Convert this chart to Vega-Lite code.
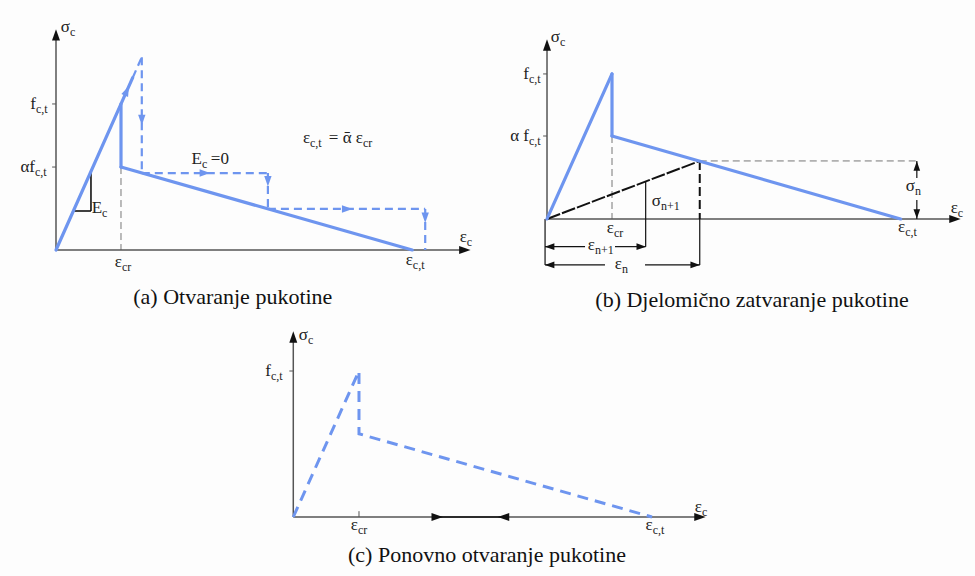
{
  "$schema": "https://vega.github.io/schema/vega-lite/v6.json",
  "background": "#fdfdfd",
  "padding": 0,
  "spacing": 0,
  "config": {"view": {"stroke": null}, "concat": {"spacing": 0}},
  "datasets": {
    "A": [
      {"kind": "axis", "e": 0, "s": 0, "e2": 6.29, "s2": 0},
      {"kind": "axis", "e": 0, "s": 0, "e2": 0, "s2": 1.473},
      {"kind": "arrowAxis", "dir": "right", "e": 6.29, "s": 0},
      {"kind": "arrowAxis", "dir": "up", "e": 0, "s": 1.473},
      {"kind": "tick", "e": -0.06, "s": 1, "e2": 0, "s2": 1},
      {"kind": "tick", "e": -0.06, "s": 0.568, "e2": 0, "s2": 0.568},
      {"kind": "guide", "e": 1, "s": 0.568, "e2": 1, "s2": 0},
      {"kind": "blue", "e": 0, "s": 0, "e2": 1.18, "s2": 1.18},
      {"kind": "blue", "e": 1, "s": 1, "e2": 1, "s2": 0.568},
      {"kind": "blue", "e": 1, "s": 0.568, "e2": 5.48, "s2": 0},
      {"kind": "blueDash", "e": 1.18, "s": 1.18, "e2": 1.32, "s2": 1.32},
      {"kind": "blueDash", "e": 1.32, "s": 1.32, "e2": 1.32, "s2": 0.527},
      {"kind": "blueDash", "e": 1.32, "s": 0.527, "e2": 3.26, "s2": 0.527},
      {"kind": "blueDash", "e": 3.26, "s": 0.527, "e2": 3.26, "s2": 0.281},
      {"kind": "blueDash", "e": 3.26, "s": 0.281, "e2": 5.68, "s2": 0.281},
      {"kind": "blueDash", "e": 5.68, "s": 0.281, "e2": 5.68, "s2": 0},
      {"kind": "black", "e": 0.538, "s": 0.537, "e2": 0.538, "s2": 0.267},
      {"kind": "black", "e": 0.246, "s": 0.267, "e2": 0.538, "s2": 0.267},
      {"kind": "arrowBlue", "dir": "down", "e": 1.32, "s": 0.89},
      {"kind": "arrowBlue", "dir": "right", "e": 2.29, "s": 0.527},
      {"kind": "arrowBlue", "dir": "down", "e": 3.26, "s": 0.47},
      {"kind": "arrowBlue", "dir": "right", "e": 4.48, "s": 0.281},
      {"kind": "arrowBlue", "dir": "down", "e": 5.68, "s": 0.22},
      {"kind": "arrowSlant", "e": 1.09, "s": 1.09},
      {"kind": "label", "main": "σ", "sub": "c", "e": 0.215, "s": 1.527},
      {"kind": "label", "main": "f", "sub": "c,t", "e": -0.308, "s": 1.0},
      {"kind": "label", "main": "αf", "sub": "c,t", "e": -0.323, "s": 0.568},
      {"kind": "label", "main": "E", "sub": "c", "e": 0.708, "s": 0.288},
      {"kind": "label", "main": "ε", "sub": "cr", "e": 1.015, "s": -0.082},
      {"kind": "label", "main": "ε", "sub": "c,t", "e": 5.49, "s": -0.068},
      {"kind": "label", "main": "ε", "sub": "c", "e": 6.32, "s": 0.089},
      {"kind": "label", "main": "E", "sub": "c", "e": 2.246, "s": 0.623},
      {"kind": "label", "main": "=0", "sub": "", "e": 2.66, "s": 0.623},
      {"kind": "label", "main": "ε", "sub": "c,t", "e": 3.908, "s": 0.767},
      {"kind": "label", "main": "= ᾱ ε", "sub": "cr", "e": 4.723, "s": 0.767},
      {"kind": "title", "title": "(a) Otvaranje pukotine", "e": 2.72, "s": -0.322}
    ],
    "B": [
      {"kind": "axis", "e": 0, "s": 0, "e2": 6.277, "s2": 0},
      {"kind": "axis", "e": 0, "s": 0, "e2": 0, "s2": 1.2},
      {"kind": "arrowAxis", "dir": "right", "e": 6.277, "s": 0},
      {"kind": "arrowAxis", "dir": "up", "e": 0, "s": 1.2},
      {"kind": "tick", "e": -0.06, "s": 1, "e2": 0, "s2": 1},
      {"kind": "tick", "e": -0.06, "s": 0.572, "e2": 0, "s2": 0.572},
      {"kind": "guide", "e": 1, "s": 0.572, "e2": 1, "s2": 0},
      {"kind": "guide", "e": 2.35, "s": 0.4, "e2": 5.69, "s2": 0.4},
      {"kind": "blue", "e": 0, "s": 0, "e2": 1, "s2": 1},
      {"kind": "blue", "e": 1, "s": 1, "e2": 1, "s2": 0.572},
      {"kind": "blue", "e": 1, "s": 0.572, "e2": 5.44, "s2": 0},
      {"kind": "blackThick", "e": 0, "s": 0, "e2": 2.35, "s2": 0.4},
      {"kind": "blackDash", "e": 2.35, "s": 0.4, "e2": 2.35, "s2": 0},
      {"kind": "black", "e": 2.35, "s": 0, "e2": 2.35, "s2": -0.317},
      {"kind": "black", "e": -0.03, "s": 0, "e2": -0.03, "s2": -0.317},
      {"kind": "black", "e": 1.518, "s": 0.259, "e2": 1.518, "s2": -0.191},
      {"kind": "black", "e": -0.03, "s": -0.191, "e2": 0.585, "s2": -0.191},
      {"kind": "black", "e": 1.046, "s": -0.191, "e2": 1.518, "s2": -0.191},
      {"kind": "black", "e": -0.03, "s": -0.317, "e2": 0.892, "s2": -0.317},
      {"kind": "black", "e": 1.508, "s": -0.317, "e2": 2.35, "s2": -0.317},
      {"kind": "black", "e": 5.69, "s": 0.4, "e2": 5.69, "s2": 0.283},
      {"kind": "black", "e": 5.69, "s": 0.131, "e2": 5.69, "s2": 0},
      {"kind": "arrowBlack", "dir": "left", "e": 0.04, "s": -0.191},
      {"kind": "arrowBlack", "dir": "right", "e": 1.45, "s": -0.191},
      {"kind": "arrowBlack", "dir": "left", "e": 0.04, "s": -0.317},
      {"kind": "arrowBlack", "dir": "right", "e": 2.28, "s": -0.317},
      {"kind": "arrowBlack", "dir": "up", "e": 5.69, "s": 0.365},
      {"kind": "arrowBlack", "dir": "down", "e": 5.69, "s": 0.035},
      {"kind": "label", "main": "σ", "sub": "c", "e": 0.2, "s": 1.255},
      {"kind": "label", "main": "f", "sub": "c,t", "e": -0.277, "s": 1.0},
      {"kind": "label", "main": "α f", "sub": "c,t", "e": -0.277, "s": 0.572},
      {"kind": "label", "main": "ε", "sub": "cr", "e": 1.03, "s": -0.062},
      {"kind": "label", "main": "ε", "sub": "c,t", "e": 5.51, "s": -0.055},
      {"kind": "label", "main": "ε", "sub": "c", "e": 6.32, "s": 0.076},
      {"kind": "label", "main": "σ", "sub": "n+1", "e": 1.754, "s": 0.124},
      {"kind": "label", "main": "σ", "sub": "n", "e": 5.66, "s": 0.228},
      {"kind": "label", "main": "ε", "sub": "n+1", "e": 0.738, "s": -0.179},
      {"kind": "label", "main": "ε", "sub": "n", "e": 1.154, "s": -0.31},
      {"kind": "title", "title": "(b) Djelomično zatvaranje pukotine", "e": 3.154, "s": -0.559}
    ],
    "C": [
      {"kind": "axis", "e": 0, "s": 0, "e2": 6.19, "s2": 0},
      {"kind": "axis", "e": 0, "s": 0, "e2": 0, "s2": 1.233},
      {"kind": "arrowAxis", "dir": "right", "e": 6.19, "s": 0},
      {"kind": "arrowAxis", "dir": "up", "e": 0, "s": 1.233},
      {"kind": "tick", "e": -0.06, "s": 1, "e2": 0, "s2": 1},
      {"kind": "tick", "e": 1, "s": 0, "e2": 1, "s2": 0.04},
      {"kind": "path", "step": 1, "e": 0, "s": 0},
      {"kind": "path", "step": 2, "e": 1, "s": 1},
      {"kind": "path", "step": 3, "e": 1, "s": 0.57},
      {"kind": "path", "step": 4, "e": 5.46, "s": 0},
      {"kind": "black", "e": 2.19, "s": 0, "e2": 3.2, "s2": 0},
      {"kind": "arrowAxis", "dir": "right", "e": 2.19, "s": 0},
      {"kind": "arrowAxis", "dir": "left", "e": 3.2, "s": 0},
      {"kind": "label", "main": "σ", "sub": "c", "e": 0.224, "s": 1.247},
      {"kind": "label", "main": "f", "sub": "c,t", "e": -0.339, "s": 1.0},
      {"kind": "label", "main": "ε", "sub": "cr", "e": 0.985, "s": -0.055},
      {"kind": "label", "main": "ε", "sub": "c,t", "e": 5.47, "s": -0.055},
      {"kind": "label", "main": "ε", "sub": "c", "e": 6.22, "s": 0.068},
      {"kind": "title", "title": "(c) Ponovno otvaranje pukotine", "e": 2.948, "s": -0.26}
    ]
  },
  "vconcat": [
    {
      "spacing": 0,
      "bounds": "flush",
      "hconcat": [
        {
          "width": 480,
          "height": 310,
          "data": {"name": "A"},
          "encoding": {
            "x": {"field": "e", "type": "quantitative", "scale": {"domain": [-0.8615, 6.523], "nice": false, "zero": false}, "axis": null},
            "y": {"field": "s", "type": "quantitative", "scale": {"domain": [-0.411, 1.712], "nice": false, "zero": false}, "axis": null}
          },
          "layer": [
            {"transform": [{"filter": "datum.kind == 'guide'"}], "mark": {"type": "rule", "color": "#777", "strokeWidth": 1, "strokeDash": [7, 4]}, "encoding": {"x2": {"field": "e2"}, "y2": {"field": "s2"}}},
            {"transform": [{"filter": "datum.kind == 'axis'"}], "mark": {"type": "rule", "color": "#555", "strokeWidth": 1.5}, "encoding": {"x2": {"field": "e2"}, "y2": {"field": "s2"}}},
            {"transform": [{"filter": "datum.kind == 'tick'"}], "mark": {"type": "rule", "color": "#555", "strokeWidth": 1}, "encoding": {"x2": {"field": "e2"}, "y2": {"field": "s2"}}},
            {"transform": [{"filter": "datum.kind == 'black'"}], "mark": {"type": "rule", "color": "#111", "strokeWidth": 1.6}, "encoding": {"x2": {"field": "e2"}, "y2": {"field": "s2"}}},
            {"transform": [{"filter": "datum.kind == 'blueDash'"}], "mark": {"type": "rule", "color": "#6e95ef", "strokeWidth": 2.2, "strokeDash": [8, 5]}, "encoding": {"x2": {"field": "e2"}, "y2": {"field": "s2"}}},
            {"transform": [{"filter": "datum.kind == 'blue'"}], "mark": {"type": "rule", "color": "#6e95ef", "strokeWidth": 3.2, "strokeCap": "round"}, "encoding": {"x2": {"field": "e2"}, "y2": {"field": "s2"}}},
            {"transform": [{"filter": "datum.kind == 'arrowAxis'"}], "mark": {"type": "point", "filled": true, "color": "#111", "opacity": 1, "size": 130, "strokeWidth": 0},
             "encoding": {"shape": {"field": "dir", "type": "nominal", "scale": {"domain": ["up", "down", "left", "right"], "range": ["m0,-1l0.7,2l-1.4,0z", "m0,1l0.7,-2l-1.4,0z", "m-1,0l2,0.7l0,-1.4z", "m1,0l-2,0.7l0,-1.4z"]}, "legend": null}}},
            {"transform": [{"filter": "datum.kind == 'arrowBlue'"}], "mark": {"type": "point", "filled": true, "color": "#6e95ef", "opacity": 1, "size": 110, "strokeWidth": 0},
             "encoding": {"shape": {"field": "dir", "type": "nominal", "scale": {"domain": ["up", "down", "left", "right"], "range": ["m0,-1l0.7,2l-1.4,0z", "m0,1l0.7,-2l-1.4,0z", "m-1,0l2,0.7l0,-1.4z", "m1,0l-2,0.7l0,-1.4z"]}, "legend": null}}},
            {"transform": [{"filter": "datum.kind == 'arrowSlant'"}], "mark": {"type": "point", "filled": true, "color": "#6e95ef", "opacity": 1, "size": 110, "strokeWidth": 0, "shape": "m0,-1l0.7,2l-1.4,0z", "angle": 24}},
            {"transform": [{"filter": "datum.kind == 'label'"}], "mark": {"type": "text", "align": "right", "baseline": "middle", "font": "Liberation Serif", "fontSize": 17, "color": "#222"}, "encoding": {"text": {"field": "main"}}},
            {"transform": [{"filter": "datum.kind == 'label'"}], "mark": {"type": "text", "align": "left", "baseline": "middle", "dy": 5, "font": "Liberation Serif", "fontSize": 12, "color": "#222"}, "encoding": {"text": {"field": "sub"}}},
            {"transform": [{"filter": "datum.kind == 'title'"}], "mark": {"type": "text", "align": "center", "baseline": "middle", "font": "Liberation Serif", "fontSize": 22, "color": "#111"}, "encoding": {"text": {"field": "title"}}}
          ]
        },
        {
          "width": 495,
          "height": 310,
          "data": {"name": "B"},
          "encoding": {
            "x": {"field": "e", "type": "quantitative", "scale": {"domain": [-1.031, 6.585], "nice": false, "zero": false}, "axis": null},
            "y": {"field": "s", "type": "quantitative", "scale": {"domain": [-0.628, 1.51], "nice": false, "zero": false}, "axis": null}
          },
          "layer": [
            {"transform": [{"filter": "datum.kind == 'guide'"}], "mark": {"type": "rule", "color": "#777", "strokeWidth": 1, "strokeDash": [7, 4]}, "encoding": {"x2": {"field": "e2"}, "y2": {"field": "s2"}}},
            {"transform": [{"filter": "datum.kind == 'axis'"}], "mark": {"type": "rule", "color": "#555", "strokeWidth": 1.5}, "encoding": {"x2": {"field": "e2"}, "y2": {"field": "s2"}}},
            {"transform": [{"filter": "datum.kind == 'tick'"}], "mark": {"type": "rule", "color": "#555", "strokeWidth": 1}, "encoding": {"x2": {"field": "e2"}, "y2": {"field": "s2"}}},
            {"transform": [{"filter": "datum.kind == 'black'"}], "mark": {"type": "rule", "color": "#111", "strokeWidth": 1.2}, "encoding": {"x2": {"field": "e2"}, "y2": {"field": "s2"}}},
            {"transform": [{"filter": "datum.kind == 'blackDash'"}], "mark": {"type": "rule", "color": "#111", "strokeWidth": 2, "strokeDash": [9, 4]}, "encoding": {"x2": {"field": "e2"}, "y2": {"field": "s2"}}},
            {"transform": [{"filter": "datum.kind == 'blackThick'"}], "mark": {"type": "rule", "color": "#111", "strokeWidth": 2, "strokeDash": [14, 2]}, "encoding": {"x2": {"field": "e2"}, "y2": {"field": "s2"}}},
            {"transform": [{"filter": "datum.kind == 'blue'"}], "mark": {"type": "rule", "color": "#6e95ef", "strokeWidth": 3.2, "strokeCap": "round"}, "encoding": {"x2": {"field": "e2"}, "y2": {"field": "s2"}}},
            {"transform": [{"filter": "datum.kind == 'arrowAxis'"}], "mark": {"type": "point", "filled": true, "color": "#111", "opacity": 1, "size": 130, "strokeWidth": 0},
             "encoding": {"shape": {"field": "dir", "type": "nominal", "scale": {"domain": ["up", "down", "left", "right"], "range": ["m0,-1l0.7,2l-1.4,0z", "m0,1l0.7,-2l-1.4,0z", "m-1,0l2,0.7l0,-1.4z", "m1,0l-2,0.7l0,-1.4z"]}, "legend": null}}},
            {"transform": [{"filter": "datum.kind == 'arrowBlack'"}], "mark": {"type": "point", "filled": true, "color": "#111", "opacity": 1, "size": 90, "strokeWidth": 0},
             "encoding": {"shape": {"field": "dir", "type": "nominal", "scale": {"domain": ["up", "down", "left", "right"], "range": ["m0,-1l0.7,2l-1.4,0z", "m0,1l0.7,-2l-1.4,0z", "m-1,0l2,0.7l0,-1.4z", "m1,0l-2,0.7l0,-1.4z"]}, "legend": null}}},
            {"transform": [{"filter": "datum.kind == 'label'"}], "mark": {"type": "text", "align": "right", "baseline": "middle", "font": "Liberation Serif", "fontSize": 17, "color": "#222"}, "encoding": {"text": {"field": "main"}}},
            {"transform": [{"filter": "datum.kind == 'label'"}], "mark": {"type": "text", "align": "left", "baseline": "middle", "dy": 5, "font": "Liberation Serif", "fontSize": 12, "color": "#222"}, "encoding": {"text": {"field": "sub"}}},
            {"transform": [{"filter": "datum.kind == 'title'"}], "mark": {"type": "text", "align": "center", "baseline": "middle", "font": "Liberation Serif", "fontSize": 22, "color": "#111"}, "encoding": {"text": {"field": "title"}}}
          ]
        }
      ]
    },
    {
      "width": 975,
      "height": 266,
      "data": {"name": "C"},
      "encoding": {
        "x": {"field": "e", "type": "quantitative", "scale": {"domain": [-4.464, 10.376], "nice": false, "zero": false}, "axis": null},
        "y": {"field": "s", "type": "quantitative", "scale": {"domain": [-0.411, 1.411], "nice": false, "zero": false}, "axis": null}
      },
      "layer": [
        {"transform": [{"filter": "datum.kind == 'axis'"}], "mark": {"type": "rule", "color": "#555", "strokeWidth": 1.5}, "encoding": {"x2": {"field": "e2"}, "y2": {"field": "s2"}}},
        {"transform": [{"filter": "datum.kind == 'tick'"}], "mark": {"type": "rule", "color": "#555", "strokeWidth": 1}, "encoding": {"x2": {"field": "e2"}, "y2": {"field": "s2"}}},
        {"transform": [{"filter": "datum.kind == 'black'"}], "mark": {"type": "rule", "color": "#111", "strokeWidth": 1.6}, "encoding": {"x2": {"field": "e2"}, "y2": {"field": "s2"}}},
        {"transform": [{"filter": "datum.kind == 'path'"}], "mark": {"type": "line", "color": "#6e95ef", "strokeWidth": 3, "strokeDash": [11, 7]}, "encoding": {"order": {"field": "step", "type": "quantitative"}}},
        {"transform": [{"filter": "datum.kind == 'arrowAxis'"}], "mark": {"type": "point", "filled": true, "color": "#111", "opacity": 1, "size": 130, "strokeWidth": 0},
         "encoding": {"shape": {"field": "dir", "type": "nominal", "scale": {"domain": ["up", "down", "left", "right"], "range": ["m0,-1l0.7,2l-1.4,0z", "m0,1l0.7,-2l-1.4,0z", "m-1,0l2,0.7l0,-1.4z", "m1,0l-2,0.7l0,-1.4z"]}, "legend": null}}},
        {"transform": [{"filter": "datum.kind == 'label'"}], "mark": {"type": "text", "align": "right", "baseline": "middle", "font": "Liberation Serif", "fontSize": 17, "color": "#222"}, "encoding": {"text": {"field": "main"}}},
        {"transform": [{"filter": "datum.kind == 'label'"}], "mark": {"type": "text", "align": "left", "baseline": "middle", "dy": 5, "font": "Liberation Serif", "fontSize": 12, "color": "#222"}, "encoding": {"text": {"field": "sub"}}},
        {"transform": [{"filter": "datum.kind == 'title'"}], "mark": {"type": "text", "align": "center", "baseline": "middle", "font": "Liberation Serif", "fontSize": 22, "color": "#111"}, "encoding": {"text": {"field": "title"}}}
      ]
    }
  ]
}
